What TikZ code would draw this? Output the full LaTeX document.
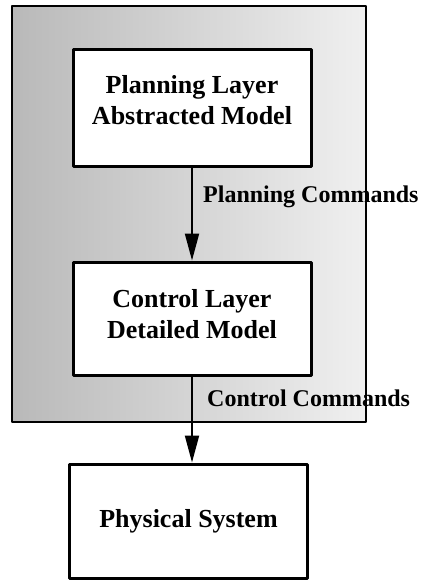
\documentclass[tikz,border=0pt]{standalone}
\usepackage{fontspec}
\setmainfont{Liberation Serif}
\usetikzlibrary{arrows.meta}
\tikzset{
  every picture/.style={line join=round, >=Stealth},
  layer/.style={draw, line width=3pt, fill=white, minimum width=238pt, align=center,
    font=\bfseries\fontsize{26}{31}\selectfont},
  cmd/.style={anchor=west, inner sep=0pt, font=\bfseries\fontsize{24}{28}\selectfont},
  flow/.style={-{Triangle[length=27pt,width=14pt]}, line width=2pt},
}

\begin{document}
\begin{tikzpicture}[x=1pt,y=-1pt]
\useasboundingbox (0,0) rectangle (429,580);
% speckled model region
\draw[line width=2pt, left color=gray!55, right color=gray!12] (12,6) rectangle (366,422);
\node[layer, minimum height=116pt, text depth=16pt] (plan) at (192,108) {Planning Layer\\Abstracted Model};
\node[layer, minimum height=113pt, text depth=9pt] (ctrl) at (192,318.5) {Control Layer\\Detailed Model};
\node[layer, minimum height=114pt] (phys) at (188.5,521) {Physical System};
\draw[flow] (plan.south) -- (ctrl.north);
\draw[flow] (ctrl.south) -- (ctrl.south |- phys.north);
\node[cmd] (plancmd) at (203,197) {Planning Commands};
\node[cmd] (ctrlcmd) at (207,398) {Control Commands};
\end{tikzpicture}
\end{document}
